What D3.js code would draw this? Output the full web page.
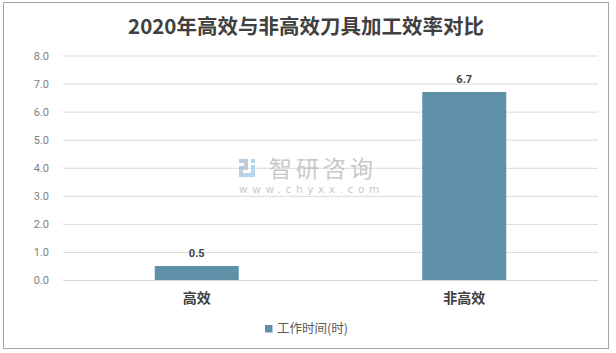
<!DOCTYPE html>
<html>
<head>
<meta charset="utf-8">
<script src="https://cdn.jsdelivr.net/npm/d3@7"></script>
<style>
    body { margin: 0; background: #fff; }
    svg text { font-family: "Noto Sans CJK SC", "Noto Sans", sans-serif; }
</style>
</head>
<body>
<div class="chart"></div>
<script>
/*
    Chart data
*/
const title_text = "2020年高效与非高效刀具加工效率对比";
const categories = ["高效", "非高效"];
const hours = [0.5, 6.7];
const series_name = "工作时间(时)";
const y_ticks = [0, 1, 2, 3, 4, 5, 6, 7, 8];

const svg_dimensions = { width: 616, height: 353 };
const plot = { left: 63, right: 598, top: 55.5, bottom: 280 };
const bar_color = "#5e91a8";

let container = d3.select(".chart").append("svg")
                    .attr("width", svg_dimensions.width)
                    .attr("height", svg_dimensions.height);

// outer border
container.append("rect")
    .attr("x", 3.5).attr("y", 2.5)
    .attr("width", 605).attr("height", 346)
    .attr("fill", "#fff")
    .attr("stroke", "#a6a6a6")
    .attr("stroke-width", 1);

/* Scales */
let xScale = d3.scaleBand()
                .domain(categories)
                .range([plot.left, plot.right])
                .paddingInner(0.686)
                .paddingOuter(0.343);

let yScale = d3.scaleLinear()
                .domain([0, 8])
                .range([plot.bottom, plot.top]);

/* Title */
container.append("text")
    .attr("x", 306).attr("y", 34)
    .attr("text-anchor", "middle")
    .attr("font-size", 20.5)
    .attr("font-weight", "bold")
    .attr("fill", "#404040")
    .text(title_text);

/* Gridlines + y axis */
let yAxis = d3.axisLeft(yScale)
                .tickValues(y_ticks)
                .tickSize(-(plot.right - plot.left))
                .tickPadding(14)
                .tickFormat(d3.format(".1f"));

let yG = container.append("g")
    .attr("transform", `translate(${plot.left},0)`)
    .call(yAxis);
yG.select(".domain").remove();
yG.selectAll(".tick line").attr("stroke", "#d9d9d9");
yG.selectAll(".tick text")
    .attr("fill", "#7f7f7f")
    .attr("font-size", 11)
    .style("font-family", "Roboto, 'Liberation Sans', sans-serif");

/* Watermark */
let wm = container.append("g").attr("opacity", 0.9);
wm.append("rect").attr("x", 239).attr("y", 159).attr("width", 9).attr("height", 4).attr("fill", "#b9c6d8");
wm.append("rect").attr("x", 244).attr("y", 159).attr("width", 4).attr("height", 11).attr("fill", "#b9c6d8");
wm.append("rect").attr("x", 239).attr("y", 166).attr("width", 9).attr("height", 4).attr("fill", "#b9c6d8");
wm.append("rect").attr("x", 239).attr("y", 166).attr("width", 4).attr("height", 11).attr("fill", "#b9c6d8");
wm.append("rect").attr("x", 251).attr("y", 159).attr("width", 4).attr("height", 4).attr("fill", "#a9d4ee");
wm.append("rect").attr("x", 251).attr("y", 165).attr("width", 4).attr("height", 12).attr("fill", "#a9d4ee");
wm.append("rect").attr("x", 243).attr("y", 173).attr("width", 12).attr("height", 4).attr("fill", "#a9d4ee");
wm.append("text")
    .attr("x", 269).attr("y", 177)
    .attr("font-size", 23)
    .attr("fill", "#c4c4c4")
    .attr("letter-spacing", 4)
    .text("智研咨询");
wm.append("text")
    .attr("x", 239).attr("y", 193)
    .attr("font-size", 10.5)
    .attr("fill", "#c4c4c4")
    .attr("letter-spacing", 4.6)
    .style("font-family", "'DejaVu Sans', sans-serif")
    .text("www.chyxx.com");

/* Bars */
container.selectAll(".bar")
    .data(hours)
    .enter().append("rect")
    .attr("class", "bar")
    .attr("x", (d, i) => xScale(categories[i]))
    .attr("y", d => yScale(d))
    .attr("width", xScale.bandwidth())
    .attr("height", d => yScale(0) - yScale(d))
    .attr("fill", bar_color);

/* Value labels */
container.selectAll(".value")
    .data(hours)
    .enter().append("text")
    .attr("class", "value")
    .attr("x", (d, i) => xScale(categories[i]) + xScale.bandwidth() / 2)
    .attr("y", d => yScale(d) - 9)
    .attr("text-anchor", "middle")
    .attr("font-size", 11)
    .attr("font-weight", "bold")
    .attr("fill", "#404040")
    .style("font-family", "Roboto, 'Liberation Sans', sans-serif")
    .text(d => d.toFixed(1));

/* x axis labels */
let xAxis = d3.axisBottom(xScale).tickSize(0).tickPadding(13);
let xG = container.append("g")
    .attr("transform", `translate(0,${plot.bottom})`)
    .call(xAxis);
xG.select(".domain").remove();
xG.selectAll(".tick text")
    .attr("fill", "#404040")
    .attr("font-size", 14)
    .attr("font-weight", "bold");

/* Legend */
container.append("rect")
    .attr("x", 265).attr("y", 325)
    .attr("width", 7.5).attr("height", 7.5)
    .attr("fill", bar_color);
container.append("text")
    .attr("x", 277).attr("y", 333)
    .attr("font-size", 12.5)
    .attr("fill", "#595959")
    .text(series_name);
</script>
</body>
</html>
